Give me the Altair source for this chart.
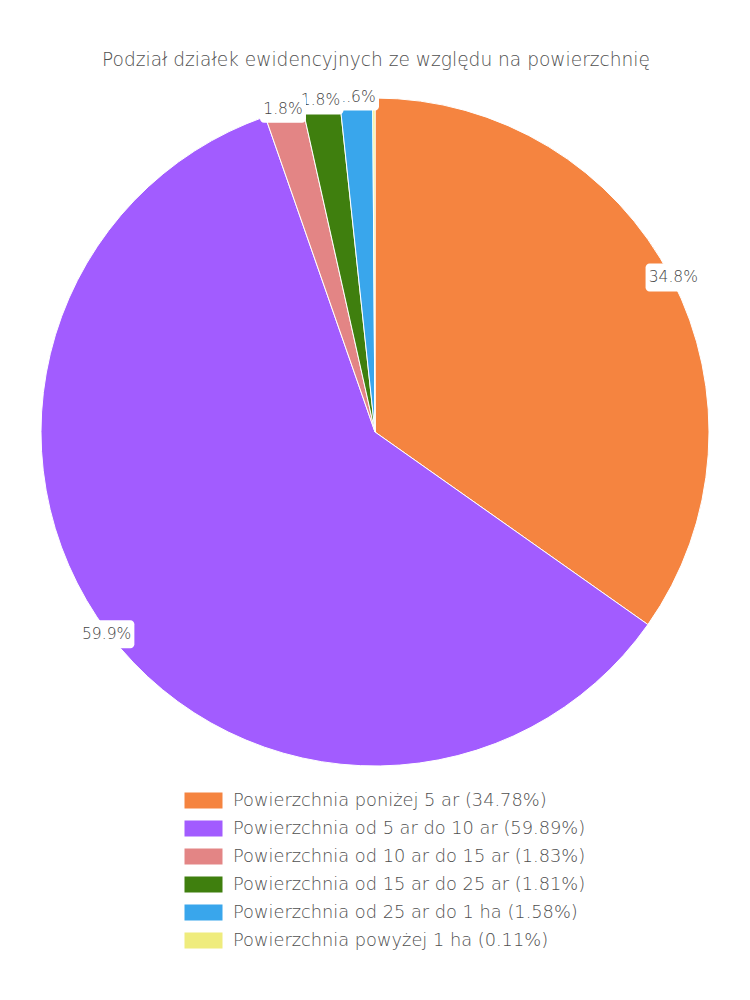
import altair as alt
import pandas as pd

title_text = "Podział działek ewidencyjnych ze względu na powierzchnię"
categories = [
    "Powierzchnia poniżej 5 ar",
    "Powierzchnia od 5 ar do 10 ar",
    "Powierzchnia od 10 ar do 15 ar",
    "Powierzchnia od 15 ar do 25 ar",
    "Powierzchnia od 25 ar do 1 ha",
    "Powierzchnia powyżej 1 ha",
]
values = [34.78, 59.89, 1.83, 1.81, 1.58, 0.11]
slice_labels = ["34.8%", "59.9%", "1.8%", "1.8%", "1.6%", ""]
colors = ["#F58440", "#A25CFF", "#E38585", "#3F7F0E", "#39A6EC", "#EFEC7D"]
label_draw_order = [0, 1, 4, 3, 2]

FONT = "DejaVu Sans"
legend_names = [f"{c} ({v:.2f}%)" for c, v in zip(categories, values)]
df = pd.DataFrame({"name": legend_names, "value": values, "label": slice_labels, "idx": list(range(len(values)))})

CX, CY, R = 367, 424, 334
LR = 336

color = alt.Color(
    "name:N",
    scale=alt.Scale(domain=legend_names, range=colors),
    legend=alt.Legend(
        orient="none", legendX=186, legendY=783, title=None,
        labelFontSize=17.8, labelColor="#505050", labelFont=FONT, labelFontWeight=300,
        labelLimit=0,
        symbolType="M-2,-0.84H2V0.84H-2Z", symbolSize=361,
        symbolStrokeWidth=0, symbolOpacity=1, labelOffset=20, rowPadding=9,
    ),
)

base = alt.Chart(df)

pie = base.mark_arc(radius=R, stroke="white", strokeWidth=1).encode(
    theta=alt.Theta("value:Q", stack=True),
    color=color,
    order=alt.Order("idx:Q", sort="ascending"),
    x=alt.value(CX),
    y=alt.value(CY),
)

lab = (
    base.transform_joinaggregate(total="sum(value)")
    .transform_window(cum="sum(value)", sort=[alt.SortField("idx", order="ascending")])
    .transform_calculate(ang="(datum.cum - datum.value/2) / datum.total * 2 * PI")
    .transform_calculate(
        px=f"{CX} + {LR} * sin(datum.ang)",
        py=f"{CY} - {LR} * cos(datum.ang)",
        bw="length(datum.label) * 9.5 + 8",
    )
    .transform_calculate(
        bx1="datum.px - datum.bw / 2",
        bx2="datum.px + datum.bw / 2",
        by1="datum.py - 14",
        by2="datum.py + 14",
    )
)

layers = [pie]
for i in label_draw_order:
    if not slice_labels[i]:
        continue
    sub = lab.transform_filter(f"datum.idx == {i}")
    box = sub.mark_rect(fill="white", cornerRadius=4).encode(
        x=alt.X("bx1:Q", scale=None, axis=None),
        x2="bx2:Q",
        y=alt.Y("by1:Q", scale=None, axis=None),
        y2="by2:Q",
    )
    txt = sub.mark_text(fontSize=15.5, fontWeight=300, color="#454545", font=FONT, align="center", baseline="middle").encode(
        x=alt.X("px:Q", scale=None, axis=None),
        y=alt.Y("py:Q", scale=None, axis=None),
        text="label:N",
    )
    layers += [box, txt]

title_df = pd.DataFrame({"t": [title_text]})
title = alt.Chart(title_df).mark_text(fontSize=18.6, fontWeight=300, color="#505050", font=FONT, align="center", baseline="middle").encode(
    x=alt.value(368), y=alt.value(52), text="t:N"
)
layers.append(title)

chart = alt.layer(*layers).properties(
    width=734, height=984, autosize=alt.AutoSizeParams(type="none"), padding=0
).configure_view(strokeWidth=0).resolve_scale(x="independent", y="independent")

chart.save("out.html", embed_options={"renderer": "svg", "actions": False})
